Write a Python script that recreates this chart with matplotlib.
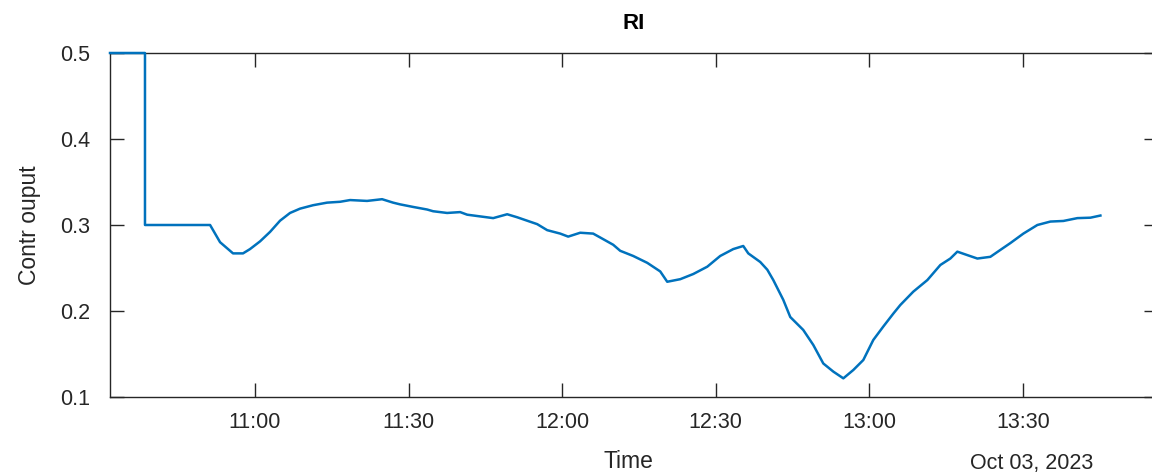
import numpy as np
import pandas as pd
import matplotlib

matplotlib.use("Agg")
import matplotlib.pyplot as plt  # noqa: E402
import matplotlib.dates as mdates  # noqa: E402

DAY = "2023-10-03"

# controller output samples (time of day, output)
times = [
    "10:31:40", "10:38:30", "10:38:30", "10:51:13", "10:53:10", "10:55:07",
    "10:55:42", "10:57:39", "10:59:01", "11:00:59", "11:02:56", "11:04:53",
    "11:06:50", "11:08:47", "11:11:20", "11:14:04", "11:16:37", "11:18:34",
    "11:21:53", "11:24:49", "11:26:58", "11:28:20", "11:30:53", "11:33:37",
    "11:34:47", "11:37:31", "11:40:04", "11:41:26", "11:43:58", "11:46:31",
    "11:49:15", "11:51:12", "11:53:09", "11:55:07", "11:57:04", "11:59:37",
    "12:01:10", "12:03:31", "12:06:03", "12:07:25", "12:09:58", "12:11:20",
    "12:13:52", "12:16:37", "12:19:09", "12:20:31", "12:23:04", "12:25:36",
    "12:28:20", "12:30:52", "12:33:25", "12:35:22", "12:36:21", "12:38:41",
    "12:40:04", "12:41:14", "12:43:11", "12:44:33", "12:47:05", "12:49:03",
    "12:51:00", "12:52:58", "12:54:55", "12:56:52", "12:58:49", "13:00:46",
    "13:02:44", "13:04:41", "13:06:03", "13:08:35", "13:11:20", "13:13:52",
    "13:15:49", "13:17:11", "13:19:08", "13:21:06", "13:23:38", "13:25:35",
    "13:27:33", "13:30:05", "13:32:49", "13:35:22", "13:37:54", "13:40:38",
    "13:43:11", "13:45:08",
]
output = [
    0.500, 0.500, 0.300, 0.300, 0.280, 0.270,
    0.267, 0.267, 0.272, 0.281, 0.292, 0.305,
    0.314, 0.319, 0.323, 0.326, 0.327, 0.329,
    0.328, 0.330, 0.326, 0.324, 0.321, 0.318,
    0.316, 0.314, 0.315, 0.312, 0.310, 0.308,
    0.3125, 0.309, 0.305, 0.301, 0.294, 0.290,
    0.2865, 0.291, 0.290, 0.2855, 0.277, 0.270,
    0.264, 0.256, 0.246, 0.234, 0.237, 0.243,
    0.2515, 0.264, 0.272, 0.2756, 0.267, 0.257,
    0.248, 0.236, 0.213, 0.193, 0.178, 0.1605,
    0.139, 0.1295, 0.1217, 0.1314, 0.143, 0.1663,
    0.182, 0.197, 0.207, 0.2225, 0.236, 0.2535,
    0.261, 0.269, 0.265, 0.261, 0.263, 0.271,
    0.279, 0.290, 0.300, 0.304, 0.3047, 0.308,
    0.3085, 0.311,
]

x_start, x_end = "10:31:40", "13:56:23"
y_ticks = [0.1, 0.2, 0.3, 0.4, 0.5]

plt.rcParams["font.family"] = ["Liberation Sans", "DejaVu Sans"]
INK = "#262626"

t = pd.to_datetime([f"{DAY} {s}" for s in times])

fig = plt.figure(figsize=(11.52, 4.75), dpi=100)
ax = fig.add_axes([110 / 1152, 78 / 475, 1048 / 1152, 344 / 475])
# draw over the spines so the 0.5 stretch stays visible on the top edge
ax.plot(t, output, color="#0072BD", lw=1.8, clip_on=False, zorder=5)

ax.set_xlim(pd.Timestamp(f"{DAY} {x_start}"), pd.Timestamp(f"{DAY} {x_end}"))
ax.set_ylim(0.1, 0.5)
ax.set_yticks(y_ticks)
ax.xaxis.set_major_locator(mdates.MinuteLocator(byminute=[0, 30]))
ax.xaxis.set_major_formatter(mdates.DateFormatter("%H:%M"))

for s in ax.spines.values():
    s.set_color(INK)
    s.set_linewidth(1.0)
ax.tick_params(direction="in", length=10, width=1.0, color=INK,
               labelsize=15.5, labelcolor=INK, top=True, right=True)
ax.tick_params(axis="y", pad=14)
ax.tick_params(axis="x", pad=11)

ax.set_title("RI", fontsize=16, fontweight="bold", pad=17)
ax.set_ylabel("Contr ouput", fontsize=16.5, color=INK, labelpad=14)
fig.text(628 / 1152, 1 - 462 / 475, "Time", ha="center", va="center",
         fontsize=16.5, color=INK)
fig.text(1093 / 1152, 1 - 464 / 475, "Oct 03, 2023", ha="right", va="center",
         fontsize=15.5, color=INK)

fig.savefig("out.png", dpi=100)
